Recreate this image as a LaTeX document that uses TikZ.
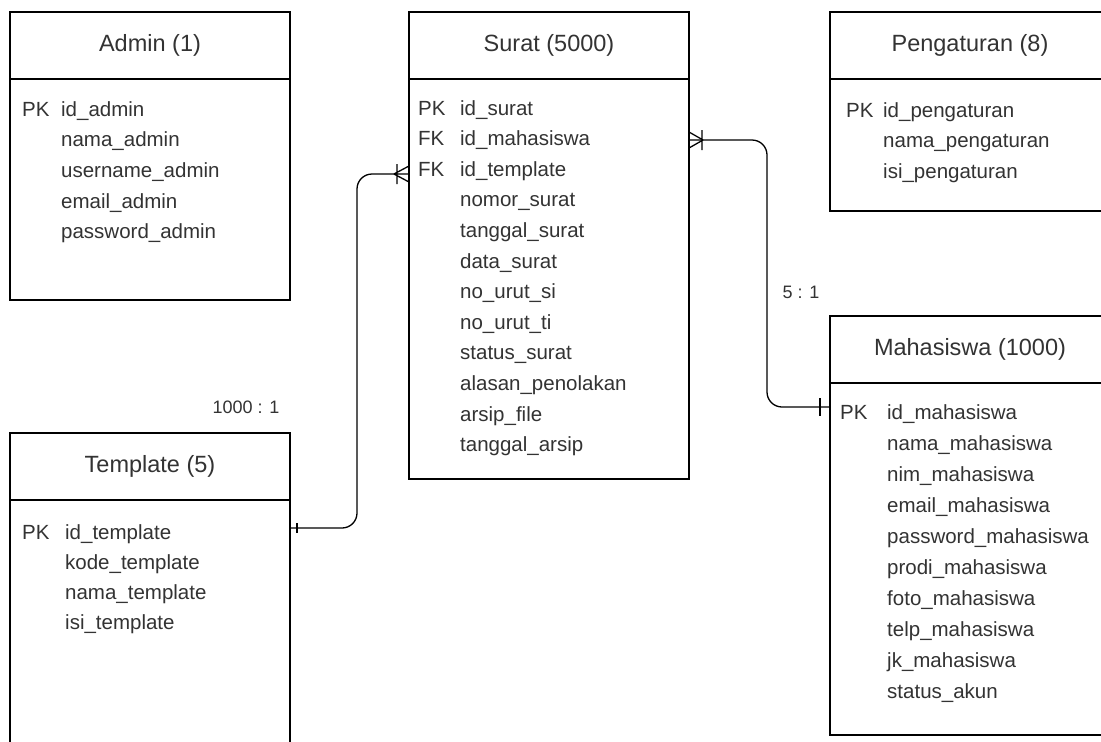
\documentclass[tikz,border=0pt]{standalone}
\usepackage{fontspec}
\setmainfont{Liberation Sans}
\usetikzlibrary{positioning}
\definecolor{erdtext}{HTML}{333333}

\tikzset{
  tabhead/.style={draw, line width=2.5pt, outer sep=0pt, inner sep=0pt,
    minimum width=280pt, minimum height=67pt, text=erdtext,
    font=\fontsize{23.5}{28}\selectfont},
  tabbody/.style={draw, line width=2.5pt, outer sep=0pt, inner sep=0pt,
    minimum width=280pt},
  field/.style={anchor=base west, inner sep=0pt, text=erdtext,
    font=\fontsize{20.5}{24}\selectfont},
  rel/.style={line width=1.3pt, rounded corners=15pt},
  card/.style={inner sep=0pt, text=erdtext, font=\fontsize{18}{22}\selectfont},
}

\begin{document}
\begin{tikzpicture}[x=1pt, y=-1pt]
  \fill[white] (0,0) rectangle (1101,742);
  \clip (0,0) rectangle (1101,742);

  % tables
  \node[tabhead, anchor=north west] (admin) at (10,12) {Admin (1)};
  \node[tabbody, below=0pt of admin, minimum height=221pt] (adminbody) {};

  \node[tabhead, anchor=north west] (surat) at (409,12) {Surat (5000)};
  \node[tabbody, below=0pt of surat, minimum height=400pt] (suratbody) {};

  \node[tabhead, anchor=north west] (pengaturan) at (830,12) {Pengaturan (8)};
  \node[tabbody, below=0pt of pengaturan, minimum height=132pt] (pengaturanbody) {};

  \node[tabhead, anchor=north west] (mahasiswa) at (830,316) {Mahasiswa (1000)};
  \node[tabbody, below=0pt of mahasiswa, minimum height=352pt] (mahasiswabody) {};

  \node[tabhead, anchor=north west] (template) at (10,433) {Template (5)};
  \node[tabbody, below=0pt of template, minimum height=320pt] (templatebody) {};

  % fields
  \foreach \k/\f [count=\i from 0] in {PK/id\_admin, /nama\_admin, /username\_admin,
      /email\_admin, /password\_admin}
    \node[field] (adminrow\i) at (22, 116+30.7*\i) {\makebox[39pt][l]{\k}\f};

  \foreach \k/\f [count=\i from 0] in {PK/id\_surat, FK/id\_mahasiswa, FK/id\_template,
      /nomor\_surat, /tanggal\_surat, /data\_surat, /no\_urut\_si, /no\_urut\_ti,
      /status\_surat, /alasan\_penolakan, /arsip\_file, /tanggal\_arsip}
    \node[field] (suratrow\i) at (418, 115+30.6*\i) {\makebox[42pt][l]{\k}\f};

  \foreach \k/\f [count=\i from 0] in {PK/id\_pengaturan, /nama\_pengaturan,
      /isi\_pengaturan}
    \node[field] (pengaturanrow\i) at (846, 117+30.5*\i) {\makebox[37pt][l]{\k}\f};

  \foreach \k/\f [count=\i from 0] in {PK/id\_mahasiswa, /nama\_mahasiswa,
      /nim\_mahasiswa, /email\_mahasiswa, /password\_mahasiswa, /prodi\_mahasiswa,
      /foto\_mahasiswa, /telp\_mahasiswa, /jk\_mahasiswa, /status\_akun}
    \node[field] (mahasiswarow\i) at (840, 419+31.1*\i) {\makebox[47pt][l]{\k}\f};

  \foreach \k/\f [count=\i from 0] in {PK/id\_template, /kode\_template,
      /nama\_template, /isi\_template}
    \node[field] (templaterow\i) at (22, 539+30*\i) {\makebox[43pt][l]{\k}\f};

  % relations
  \coordinate (fttemplate) at (suratbody.west |- 0,174);
  \coordinate (ftmahasiswa) at (suratbody.east |- 0,140);

  \draw[rel] (templatebody.east |- 0,528) -- (357,528) -- (357,174) -- (fttemplate);
  \draw[rel] (ftmahasiswa) -- (767,140) -- (767,407) -- (mahasiswabody.west |- 0,407);

  % crow's feet and bars
  \draw[line width=1.3pt] ([xshift=-15pt]fttemplate) -- ([yshift=8pt]fttemplate)
    ([xshift=-15pt]fttemplate) -- ([yshift=-8pt]fttemplate)
    ([xshift=-12pt,yshift=10pt]fttemplate) -- ([xshift=-12pt,yshift=-10pt]fttemplate);
  \draw[line width=1.3pt] ([xshift=14pt]ftmahasiswa) -- ([yshift=8pt]ftmahasiswa)
    ([xshift=14pt]ftmahasiswa) -- ([yshift=-8pt]ftmahasiswa)
    ([xshift=13pt,yshift=10pt]ftmahasiswa) -- ([xshift=13pt,yshift=-10pt]ftmahasiswa);
  \draw[line width=1.3pt] ([xshift=-10pt,yshift=9pt]mahasiswabody.west |- 0,407)
    -- ([xshift=-10pt,yshift=-9pt]mahasiswabody.west |- 0,407);
  \draw[line width=1.3pt] ([xshift=7pt,yshift=5pt]templatebody.east |- 0,528)
    -- ([xshift=7pt,yshift=-5pt]templatebody.east |- 0,528);

  % cardinalities
  \node[card] (cardtemplate) at (246,407) {1000 : 1};
  \node[card] (cardmahasiswa) at (801,292) {5 : 1};
\end{tikzpicture}
\end{document}
